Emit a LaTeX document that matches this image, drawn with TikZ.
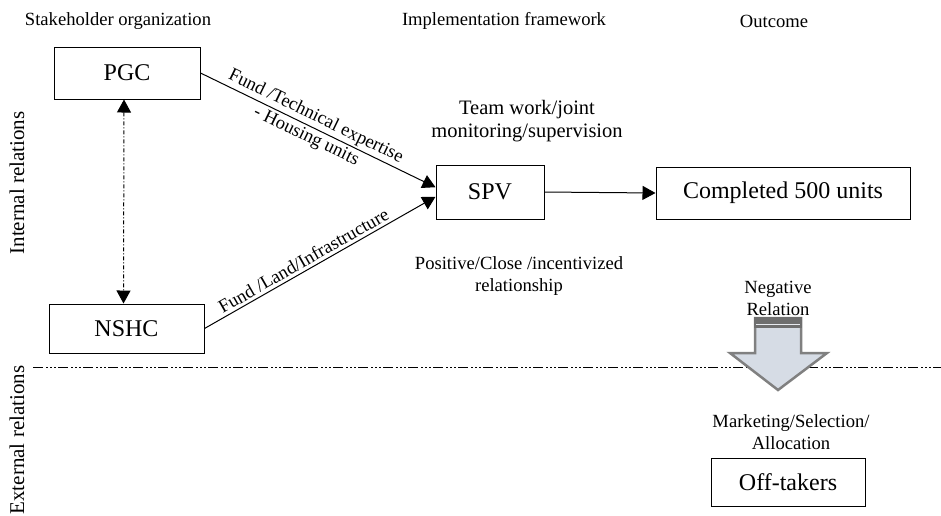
\documentclass[tikz,border=0pt]{standalone}
\usepackage{fontspec}
\setmainfont{Liberation Serif}
\usetikzlibrary{arrows.meta}

\definecolor{arrfill}{HTML}{D6DCE5}
\definecolor{arrline}{HTML}{808080}
\definecolor{arrdark}{HTML}{6E6E6E}

\begin{document}
\begin{tikzpicture}[x=1pt,y=-1pt,
box/.style = {draw, line width=1pt, inner sep=0pt, font=\fontsize{24}{28}\selectfont},
lbl/.style = {align=center, inner sep=0pt, font=\fontsize{18.6}{22}\selectfont},
tip/.style = {-{Triangle[length=13pt,width=14pt]}, line width=1pt}]
\useasboundingbox (0,0) rectangle (941,515);
% headings
\node[lbl] (hstake) at (118,21) {Stakeholder organization};
\node[lbl] (himpl) at (504,21) {Implementation framework};
\node[lbl] (hout) at (774,21) {Outcome};
\node[lbl, rotate=90, font=\fontsize{21}{24}\selectfont] (hint) at (17,183) {Internal relations};
\node[lbl, rotate=90, font=\fontsize{21}{24}\selectfont] (hext) at (17,440) {External relations};
% boxes
\node[box, minimum width=146pt, minimum height=52pt] (pgc) at (127,73) {PGC};
\node[box, minimum width=155pt, minimum height=49pt] (nshc) at (126.5,328.5) {NSHC};
\node[box, minimum width=108pt, minimum height=54pt] (spv) at (490,192) {SPV};
\node[box, minimum width=254pt, minimum height=52pt] (done) at (783,193) {Completed 500 units};
\node[box, minimum width=154pt, minimum height=48pt] (offtakers) at (788,482) {Off-takers};
% notes
\node[lbl, font=\fontsize{20.5}{23}\selectfont] (team) at (527,121.5) {Team work/joint\\monitoring/supervision};
\node[lbl] (posrel) at (519,276) {Positive/Close /incentivized\\relationship};
\node[lbl] (negrel) at (778,298) {Negative\\Relation};
\node[lbl] (market) at (791,432.5) {Marketing/Selection/\\Allocation};
% relations
\draw[tip] (pgc.east) -- node[lbl, sloped, pos=0.47] {Fund /Technical expertise\\- Housing units} (spv.175);
\draw[tip] (nshc.east) -- node[lbl, sloped, above, inner sep=3pt, pos=0.45] {Fund /Land/Infrastructure} (spv.185);
\draw[tip] (spv.east) -- (done.west);
\draw[{Triangle[length=13pt,width=14pt]}-{Triangle[length=13pt,width=14pt]}, line width=1pt,
      dash pattern=on 4pt off 2pt on 1pt off 2pt] ([xshift=-3pt]pgc.south) -- ([xshift=-3pt]nshc.north);
% border internal/external
\coordinate (sepL) at (33,367);
\coordinate (sepR) at (941,367);
\draw[line width=0.8pt, dash pattern=on 10pt off 3pt on 1.5pt off 2.5pt on 1.5pt off 2.5pt on 1.5pt off 2.5pt] (sepL) -- (sepR);
% negative relation arrow
\draw[line width=2.5pt, draw=arrline, fill=arrfill, line join=miter]
  (755,318) -- (801,318) -- (801,353) -- (827,353) -- (778,390) -- (730,353) -- (755,353) -- cycle;
\fill[arrdark] (754,317) rectangle (802,327.5);
\draw[arrfill!60!white, line width=1pt] (756,324) -- (800,324);
\end{tikzpicture}
\end{document}
